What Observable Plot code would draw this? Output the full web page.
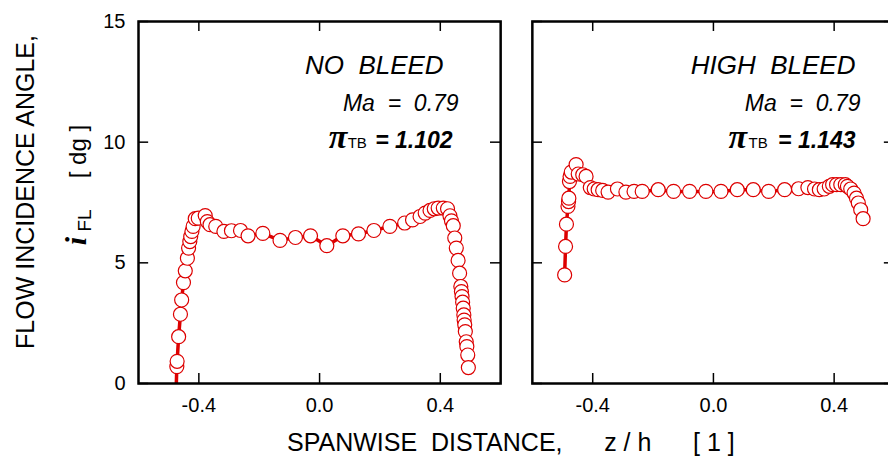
<!DOCTYPE html>
<html><head><meta charset="utf-8">
<script src="https://cdn.jsdelivr.net/npm/d3@7"></script>
<script src="https://cdn.jsdelivr.net/npm/@observablehq/plot@0.6"></script>
<style>
body{margin:0;overflow:hidden;background:#fff;font-family:"Liberation Sans",Arial,sans-serif;}
#wrap{position:relative;width:900px;height:464px;overflow:hidden;}
.ov{position:absolute;white-space:pre;color:#000;line-height:1;}
.rot{transform:translate(-50%,-50%) rotate(-90deg);}
</style></head><body><div id="wrap"></div>
<script>
const panels = ["NO BLEED", "HIGH BLEED"];
const panelTitles = ["NO  BLEED", "HIGH  BLEED"];
const machNumbers = ["0.79", "0.79"];
const piTB = ["1.102", "1.143"];

const noBleedZ = [-0.477,-0.473,-0.472,-0.467,-0.461,-0.457,-0.451,-0.445,-0.438,-0.434,-0.430,-0.427,-0.423,-0.419,-0.412,-0.402,-0.379,-0.372,-0.363,-0.344,-0.317,-0.292,-0.262,-0.237,-0.188,-0.131,-0.080,-0.030,0.024,0.077,0.129,0.180,0.233,0.282,0.308,0.333,0.350,0.366,0.380,0.393,0.410,0.424,0.432,0.437,0.443,0.448,0.453,0.459,0.464,0.468,0.470,0.472,0.474,0.476,0.478,0.479,0.481,0.483,0.486,0.488,0.491,0.493];
const noBleedAngle = [-1.0,0.70,0.92,1.94,2.87,3.46,4.18,4.67,5.19,5.61,5.88,6.09,6.30,6.51,6.83,6.85,6.96,6.71,6.58,6.51,6.30,6.33,6.34,6.12,6.22,5.93,6.05,6.12,5.71,6.12,6.20,6.34,6.51,6.65,6.78,6.92,7.06,7.17,7.24,7.27,7.27,7.24,6.95,6.74,6.54,6.03,5.61,5.10,4.57,4.02,3.81,3.60,3.37,3.12,2.84,2.63,2.43,2.15,1.73,1.53,1.18,0.66];

const highBleedZ = [-0.493,-0.490,-0.487,-0.482,-0.480,-0.479,-0.477,-0.475,-0.471,-0.455,-0.448,-0.433,-0.422,-0.408,-0.395,-0.382,-0.367,-0.349,-0.318,-0.290,-0.263,-0.236,-0.183,-0.132,-0.079,-0.025,0.025,0.079,0.132,0.183,0.236,0.282,0.313,0.335,0.351,0.367,0.384,0.395,0.408,0.422,0.437,0.444,0.455,0.466,0.474,0.480,0.488,0.496];
const highBleedAngle = [4.50,5.68,6.60,7.34,7.54,7.68,8.37,8.58,8.76,9.07,8.68,8.65,8.58,8.12,8.06,8.03,8.00,7.93,8.06,7.93,7.96,7.96,8.03,7.96,7.96,7.96,7.96,8.03,8.03,7.96,8.03,8.07,8.12,8.06,8.03,8.06,8.17,8.24,8.24,8.24,8.24,8.17,8.06,7.89,7.68,7.48,7.20,6.83];

const xTicks = [-0.4, 0, 0.4];
const xTickLabels = ["-0.4", "0.0", "0.4"];
const yTicks = [0, 5, 10, 15];

const data = [
  ...noBleedZ.map((z, i) => ({panel: panels[0], z, angle: noBleedAngle[i]})),
  ...highBleedZ.map((z, i) => ({panel: panels[1], z, angle: highBleedAngle[i]}))
];
const ann = panels.map((p, i) => ({panel: p, title: panelTitles[i], ma: "Ma  =  " + machNumbers[i], val: "= " + piTB[i]}));

const RED = "#dd0000";
const H = 464, MT = 21, MB = 81;
const innerH = H - MT - MB;
const bandW = 362;
const tickLen = 10;

// per-panel annotation layout (px offsets from the top-right corner of each panel)
const annLayout = [
  {title: -57, ma: -42, pi: -172, tb: -153, val: -48},
  {title: -39, ma: -34, pi: -166, tb: -146, val: -39}
];
const annMarks = [];
ann.forEach((row, i) => {
  const L = annLayout[i];
  const base = {fx: "panel", frameAnchor: "top-right", lineAnchor: "bottom", fill: "black"};
  annMarks.push(
    Plot.text([row], {...base, text: "title", textAnchor: "end", dx: L.title, dy: 52, fontSize: 26, fontStyle: "italic"}),
    Plot.text([row], {...base, text: "ma", textAnchor: "end", dx: L.ma, dy: 89, fontSize: 23, fontStyle: "italic"}),
    Plot.text([row], {...base, text: () => "\u03C0", textAnchor: "start", dx: L.pi, dy: 126, fontSize: 34, fontStyle: "italic", fontWeight: "bold", fontFamily: "Liberation Serif, Times New Roman, serif"}),
    Plot.text([row], {...base, text: () => "TB", textAnchor: "start", dx: L.tb, dy: 126, fontSize: 15}),
    Plot.text([row], {...base, text: "val", textAnchor: "end", dx: L.val, dy: 126, fontSize: 23, fontStyle: "italic", fontWeight: "bold"})
  );
});

const chart = Plot.plot({
  width: 900,
  height: H,
  marginLeft: 138,
  marginRight: 6,
  marginTop: MT,
  marginBottom: MB,
  style: {fontFamily: "Liberation Sans, Arial, sans-serif", fontSize: "20px", maxWidth: "none", background: "white", color: "black"},
  fx: {domain: panels, axis: null, paddingInner: 0.0805, paddingOuter: 0, round: false},
  x: {domain: [-0.6, 0.6]},
  y: {domain: [0, 15]},
  marks: [
    Plot.line(data, {fx: "panel", x: "z", y: "angle", stroke: RED, strokeWidth: 3.5, clip: true}),
    Plot.dot(data, {fx: "panel", x: "z", y: "angle", r: 7, fill: "white", stroke: RED, strokeWidth: 1.2, clip: true}),
    Plot.tickY(yTicks, {y: d => d, insetRight: bandW - tickLen, stroke: "black", strokeWidth: 1.5}),
    Plot.tickY(yTicks, {y: d => d, insetLeft: bandW - tickLen, stroke: "black", strokeWidth: 1.5}),
    Plot.tickX(xTicks, {x: d => d, insetBottom: innerH - tickLen, stroke: "black", strokeWidth: 1.5}),
    Plot.tickX(xTicks, {x: d => d, insetTop: innerH - tickLen, stroke: "black", strokeWidth: 1.5}),
    Plot.frame({stroke: "black", strokeWidth: 2.5}),
    Plot.axisY({ticks: yTicks, tickSize: 0, tickPadding: 13, fontSize: 20, label: null}),
    Plot.axisX({ticks: xTicks, tickSize: 0, tickPadding: 14, fontSize: 20, label: null,
      tickFormat: d => xTickLabels[xTicks.findIndex(t => Math.abs(t - d) < 1e-9)]}),
    ...annMarks
  ]
});
const wrap = document.getElementById("wrap");
wrap.appendChild(chart);

function overlay(html, css, cls) {
  const d = document.createElement("div");
  d.className = "ov " + (cls || "");
  d.innerHTML = html;
  Object.assign(d.style, css);
  wrap.appendChild(d);
  return d;
}
overlay("FLOW INCIDENCE ANGLE,", {left: "25px", top: "192px", fontSize: "25px"}, "rot");
overlay('<span style="font-family:\'Liberation Serif\',serif;font-weight:bold;font-style:italic;font-size:30px">i</span><span style="font-size:19px;position:relative;top:5px"> FL</span>       <span style="font-size:24px">[ dg ]</span>',
  {left: "76px", top: "185px"}, "rot");
overlay("SPANWISE  DISTANCE,      z / h      [ 1 ]", {left: "287px", top: "430px", fontSize: "25px"});
</script>
</body></html>
